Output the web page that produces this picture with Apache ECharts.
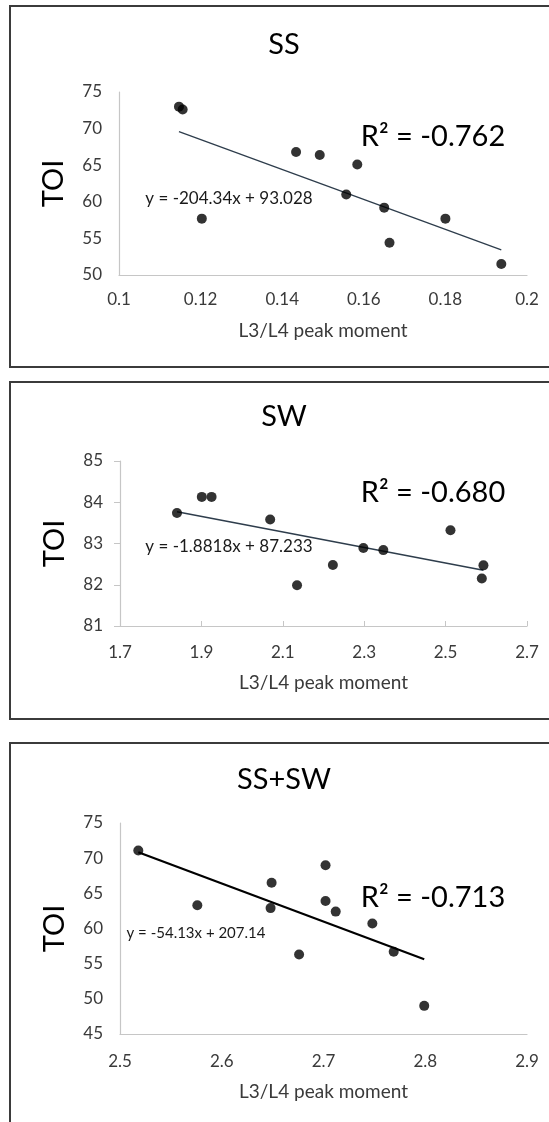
<!DOCTYPE html>
<html>
<head>
<meta charset="utf-8">
<title>TOI vs L3/L4 peak moment</title>
<script src="https://cdn.jsdelivr.net/npm/echarts@6/dist/echarts.min.js"></script>
<style>
  html, body { margin: 0; padding: 0; background: #ffffff; }
  #chart { width: 549px; height: 1122px; }
</style>
</head>
<body>
<div id="chart"></div>
<script>
// Panel titles
const panelTitles = ['SS', 'SW', 'SS+SW'];

// SS: L3/L4 peak moment vs TOI
const ssX = [0.1147, 0.1156, 0.1203, 0.1434, 0.1492, 0.1584, 0.1557, 0.1650, 0.1663, 0.1800, 0.1937];
const ssY = [73.0, 72.6, 57.7, 66.8, 66.4, 65.1, 61.0, 59.2, 54.4, 57.7, 51.5];

// SW: L3/L4 peak moment vs TOI
const swX = [1.840, 1.901, 1.925, 2.069, 2.135, 2.223, 2.298, 2.347, 2.512, 2.593, 2.589];
const swY = [83.74, 84.13, 84.13, 83.58, 81.99, 82.48, 82.89, 82.84, 83.32, 82.47, 82.15];

// SS+SW: L3/L4 peak moment vs TOI
const allX = [2.518, 2.576, 2.649, 2.648, 2.676, 2.702, 2.702, 2.712, 2.748, 2.769, 2.799];
const allY = [71.1, 63.3, 66.5, 62.9, 56.3, 69.0, 63.9, 62.4, 60.7, 56.7, 49.0];

// Linear trendlines (slope, intercept) and their labels
const trendSlopes = [-204.34, -1.8818, -54.13];
const trendIntercepts = [93.028, 87.233, 207.14];
const equationLabels = ['y = -204.34x + 93.028', 'y = -1.8818x + 87.233', 'y = -54.13x + 207.14'];
const rLabels = ['R\u00B2 = -0.762', 'R\u00B2 = -0.680', 'R\u00B2 = -0.713'];

// Tick values
const ssXTicks = [0.1, 0.12, 0.14, 0.16, 0.18, 0.2];
const ssYTicks = [50, 55, 60, 65, 70, 75];
const swXTicks = [1.7, 1.9, 2.1, 2.3, 2.5, 2.7];
const swYTicks = [81, 82, 83, 84, 85];
const allXTicks = [2.5, 2.6, 2.7, 2.8, 2.9];
const allYTicks = [45, 50, 55, 60, 65, 70, 75];

const xAxisName = 'L3/L4 peak moment';
const yAxisName = 'TOI';

const FONT = 'Lato, "Open Sans", sans-serif';
const AXIS_GRAY = '#c6c6c6';
const LABEL_GRAY = '#3a3a3a';

const panels = [
  { xs: ssX, ys: ssY, xt: ssXTicks, yt: ssYTicks, grid: { left: 119, top: 92, width: 408, height: 183 },
    trendColor: '#2e3d4c', trendWidth: 1.3, ticks: false, xMargin: 16, nameGap: 56,
    box: { y: 6, h: 361 }, titleY: 45, rY: 137, eq: { x: 229, y: 199, size: 17 } },
  { xs: swX, ys: swY, xt: swXTicks, yt: swYTicks, grid: { left: 120, top: 461, width: 407, height: 165 },
    trendColor: '#2e3d4c', trendWidth: 1.5, ticks: true, xMargin: 18, nameGap: 57,
    box: { y: 382, h: 337 }, titleY: 417, rY: 493, eq: { x: 229, y: 547, size: 17 } },
  { xs: allX, ys: allY, xt: allXTicks, yt: allYTicks, grid: { left: 120, top: 823, width: 407, height: 211 },
    trendColor: '#000000', trendWidth: 2.2, ticks: false, xMargin: 19, nameGap: 58,
    box: { y: 743, h: 420 }, titleY: 780, rY: 898, eq: { x: 196, y: 933, size: 15 } }
];

const grids = [], xAxes = [], yAxes = [], series = [], graphics = [];

panels.forEach((p, i) => {
  grids.push(Object.assign({ containLabel: false }, p.grid));

  xAxes.push({
    type: 'value', gridIndex: i,
    min: p.xt[0], max: p.xt[p.xt.length - 1],
    splitLine: { show: false },
    axisLine: { show: true, onZero: false, lineStyle: { color: AXIS_GRAY, width: 1.2 } },
    axisTick: { show: p.ticks, inside: true, length: 5, customValues: p.xt, lineStyle: { color: AXIS_GRAY } },
    axisLabel: { customValues: p.xt, margin: p.xMargin, color: LABEL_GRAY, fontFamily: FONT, fontSize: 17,
                 formatter: v => String(v) },
    name: xAxisName, nameLocation: 'middle', nameGap: p.nameGap,
    nameTextStyle: { fontFamily: FONT, fontSize: 19, color: LABEL_GRAY, verticalAlign: 'middle' }
  });

  yAxes.push({
    type: 'value', gridIndex: i,
    min: p.yt[0], max: p.yt[p.yt.length - 1],
    splitLine: { show: false },
    axisLine: { show: true, onZero: false, lineStyle: { color: AXIS_GRAY, width: 1.2 } },
    axisTick: { show: p.ticks, length: 6, customValues: p.yt, lineStyle: { color: AXIS_GRAY } },
    axisLabel: { customValues: p.yt, margin: 17, color: LABEL_GRAY, fontFamily: FONT, fontSize: 17 },
    name: yAxisName, nameLocation: 'middle', nameGap: 65, nameRotate: 90,
    nameTextStyle: { fontFamily: FONT, fontSize: 29, color: '#000', verticalAlign: 'middle' }
  });

  // Trendline over the range of the observed x values
  const xMin = Math.min.apply(null, p.xs), xMax = Math.max.apply(null, p.xs);
  const m = trendSlopes[i], b = trendIntercepts[i];
  series.push({
    type: 'line', xAxisIndex: i, yAxisIndex: i, silent: true,
    symbol: 'none', data: [[xMin, m * xMin + b], [xMax, m * xMax + b]],
    lineStyle: { color: p.trendColor, width: p.trendWidth }, z: 2
  });

  series.push({
    type: 'scatter', xAxisIndex: i, yAxisIndex: i, silent: true,
    symbol: 'circle', symbolSize: 10,
    data: p.xs.map((x, k) => [x, p.ys[k]]),
    itemStyle: { color: '#000000' }, z: 3
  });

  // Panel frame
  graphics.push({
    type: 'rect', shape: { x: 10, y: p.box.y, width: 600, height: p.box.h },
    style: { fill: 'none', stroke: '#3b3b3b', lineWidth: 2 }, silent: true
  });

  // Title
  graphics.push({
    type: 'text', x: 284, y: p.titleY,
    style: { text: panelTitles[i], font: '29px ' + FONT, fill: '#000',
             align: 'center', verticalAlign: 'middle', textAlign: 'center', textVerticalAlign: 'middle' }
  });

  // Correlation label
  graphics.push({
    type: 'text', x: 433, y: p.rY,
    style: { text: rLabels[i], font: '29px ' + FONT, fill: '#000',
             align: 'center', verticalAlign: 'middle', textAlign: 'center', textVerticalAlign: 'middle' }
  });

  // Trendline equation
  graphics.push({
    type: 'text', x: p.eq.x, y: p.eq.y,
    style: { text: equationLabels[i], font: p.eq.size + 'px ' + FONT, fill: '#1a1a1a',
             align: 'center', verticalAlign: 'middle', textAlign: 'center', textVerticalAlign: 'middle' }
  });
});

const chart = echarts.init(document.getElementById('chart'), null, { renderer: 'canvas' });
chart.setOption({
  animation: false,
  backgroundColor: '#ffffff',
  grid: grids,
  xAxis: xAxes,
  yAxis: yAxes,
  series: series,
  graphic: { elements: graphics }
});
</script>
</body>
</html>
